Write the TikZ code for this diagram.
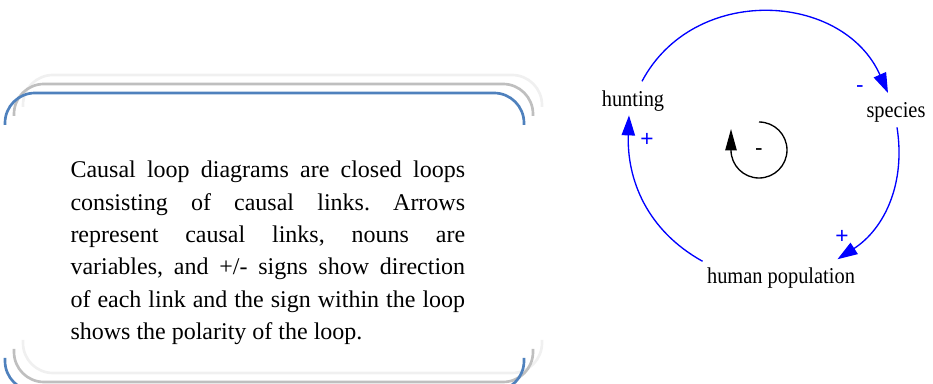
\documentclass[tikz,border=0pt]{standalone}
\usepackage{fontspec}
\setmainfont{Liberation Serif}
\newfontfamily\varfont[FakeStretch=0.9]{Liberation Serif}
\newfontfamily\polfont{Liberation Sans}
\usetikzlibrary{arrows.meta}
\definecolor{frameblue}{RGB}{79,129,189}
\definecolor{framegray}{RGB}{191,191,191}
\definecolor{framelight}{RGB}{240,240,240}
\definecolor{linkblue}{RGB}{0,0,255}
\frenchspacing
\tikzset{every picture/.style={line width=0.75pt}}
\tikzset{
  bracketline/.style={line width=2pt, rounded corners=22.5pt},
  varlabel/.style={font=\varfont\fontsize{17}{20}\selectfont, inner sep=0pt, anchor=base},
  link/.style={draw=linkblue, line width=1pt, -{Triangle[length=15pt,width=10pt]}},
  pol/.style={font=\polfont\fontsize{17}{20}\selectfont, text=linkblue, inner sep=0pt},
  blurb/.style={font=\fontsize{18}{24.2}\selectfont, text width=296pt, align=justify, inner sep=0pt, anchor=base west},
}

\begin{document}
\begin{tikzpicture}[x=0.75pt,y=0.75pt,yscale=-1,xscale=1]
\useasboundingbox (0,0) rectangle (933,384);

%Shape: bracket pair, three layers
\foreach \d/\c in {18/framelight, 9/framegray, 0/frameblue}{
  \draw [bracketline, draw=\c, shift={(\d,-\d)}] (5,125) -- (5,93) -- (524,93) -- (524,125) ;
  \draw [bracketline, draw=\c, shift={(\d,-\d)}] (5,358) -- (5,391) -- (524,391) -- (524,358) ;
}

% Text Node
\node [blurb] (blurbtext) at (70,178) {Causal loop diagrams are closed loops\linebreak consisting of causal links. Arrows\linebreak represent causal links, nouns are\linebreak variables, and +/- signs show direction\linebreak of each link and the sign within the loop\linebreak shows the polarity of the loop.};

% Variables
\node [varlabel] (hunting) at (633,107) {hunting};
\node [varlabel] (species) at (896,118) {species};
\node [varlabel] (humanpop) at (781,284) {human population};

% Causal links
\draw [link] ([shift={(9,-9.5)}]hunting.north) to [out=-62,in=-114,looseness=1.15] ([shift={(-8,-9.5)}]species.north);
\draw [link] ([shift={(1,4)}]species.south) to [out=81,in=-33] ([shift={(-18,-8.5)}]humanpop.north east);
\draw [link] ([shift={(-4,-6.5)}]humanpop.north west) to [out=-151,in=92] ([shift={(-4,3)}]hunting.south);

% Link polarity
\node [pol] (minussp) at (860,89) {-};
\node [pol] (plushu) at (647,140) {+};
\node [pol] (plushp) at (842,237) {+};

% Loop polarity
\node [pol, text=black] (loopsign) at (759,152) {-};
\draw [line width=1pt, -{Triangle[length=16pt,width=8.5pt]}] (759,122) arc [start angle=-90, end angle=180, radius=28] -- ++(0,-21);

\end{tikzpicture}
\end{document}
